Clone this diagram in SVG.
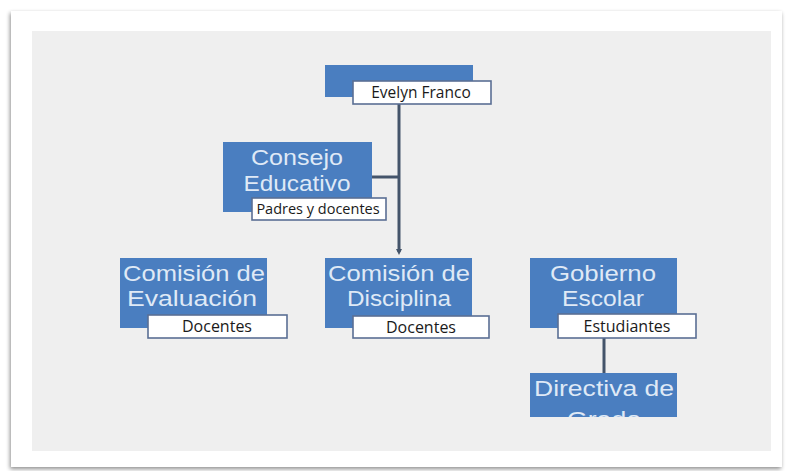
<svg xmlns="http://www.w3.org/2000/svg" width="789" height="471" viewBox="0 0 789 471">
<defs>
<style>
.card{fill:#ffffff}
.panel{fill:#efefef}
.box{fill:#4a7ec0}
.tag{fill:#ffffff;stroke:#5a6f94;stroke-width:1.6}
.t{font-family:"Liberation Sans",Arial,sans-serif;font-size:22px;fill:#dfe9f6;text-anchor:middle}
.l{font-family:"Open Sans","Noto Sans",sans-serif;font-size:16px;fill:#1a1a1a;text-anchor:middle}
.c{stroke:#44546a;stroke-width:3;fill:none}
</style>
<filter id="sh" x="-5%" y="-5%" width="110%" height="110%">
<feGaussianBlur in="SourceAlpha" stdDeviation="2"/>
<feOffset dx="-1" dy="2"/>
<feComponentTransfer><feFuncA type="linear" slope="0.45"/></feComponentTransfer>
<feMerge><feMergeNode/><feMergeNode in="SourceGraphic"/></feMerge>
</filter>
<marker id="arr" markerWidth="6" markerHeight="6" refX="3" refY="3" orient="auto" markerUnits="userSpaceOnUse">
<path d="M0,0 L6,3 L0,6 z" fill="#44546a"/>
</marker>
<clipPath id="clipDir"><rect x="530" y="373" width="147" height="44"/></clipPath>
</defs>

<rect class="card" x="11" y="11" width="771" height="456" filter="url(#sh)"/>
<rect class="panel" x="32" y="31" width="739" height="420"/>

<g id="connectors">
<line class="c" x1="399" y1="104" x2="399" y2="252" marker-end="url(#arr)"/>
<line class="c" x1="372" y1="177" x2="399" y2="177"/>
<line class="c" x1="604" y1="338" x2="604" y2="373"/>
</g>

<g id="n-evelyn">
<rect class="box" x="325" y="65" width="148" height="32"/>
<rect class="tag" x="353" y="81" width="138" height="23"/>
<text class="l" x="421" y="98" style="font-size:15.5px">Evelyn Franco</text>
</g>

<g id="n-consejo">
<rect class="box" x="223" y="142" width="149" height="70"/>
<text class="t" x="297" y="165" textLength="92" lengthAdjust="spacingAndGlyphs">Consejo</text>
<text class="t" x="297" y="191" textLength="107" lengthAdjust="spacingAndGlyphs">Educativo</text>
<rect class="tag" x="252" y="198" width="134" height="22"/>
<text class="l" x="318" y="214" style="font-size:14.5px">Padres y docentes</text>
</g>

<g id="n-evaluacion">
<rect class="box" x="120" y="258" width="147" height="70"/>
<text class="t" x="194" y="281" textLength="142" lengthAdjust="spacingAndGlyphs">Comisión de</text>
<text class="t" x="192" y="306" textLength="130" lengthAdjust="spacingAndGlyphs">Evaluación</text>
<rect class="tag" x="148" y="315" width="139" height="23"/>
<text class="l" x="217" y="332">Docentes</text>
</g>

<g id="n-disciplina">
<rect class="box" x="325" y="258" width="147" height="70"/>
<text class="t" x="399" y="281" textLength="142" lengthAdjust="spacingAndGlyphs">Comisión de</text>
<text class="t" x="399" y="306" textLength="104" lengthAdjust="spacingAndGlyphs">Disciplina</text>
<rect class="tag" x="353" y="316" width="136" height="22"/>
<text class="l" x="421" y="333">Docentes</text>
</g>

<g id="n-gobierno">
<rect class="box" x="530" y="258" width="147" height="70"/>
<text class="t" x="603" y="281" textLength="106" lengthAdjust="spacingAndGlyphs">Gobierno</text>
<text class="t" x="603" y="306" textLength="82" lengthAdjust="spacingAndGlyphs">Escolar</text>
<rect class="tag" x="558" y="314" width="138" height="24"/>
<text class="l" x="627" y="332">Estudiantes</text>
</g>

<g id="n-directiva">
<rect class="box" x="530" y="373" width="147" height="44"/>
<g clip-path="url(#clipDir)">
<text class="t" x="604" y="396" textLength="140" lengthAdjust="spacingAndGlyphs">Directiva de</text>
<text class="t" x="604" y="427" textLength="74" lengthAdjust="spacingAndGlyphs">Grado</text>
</g>
</g>
</svg>
